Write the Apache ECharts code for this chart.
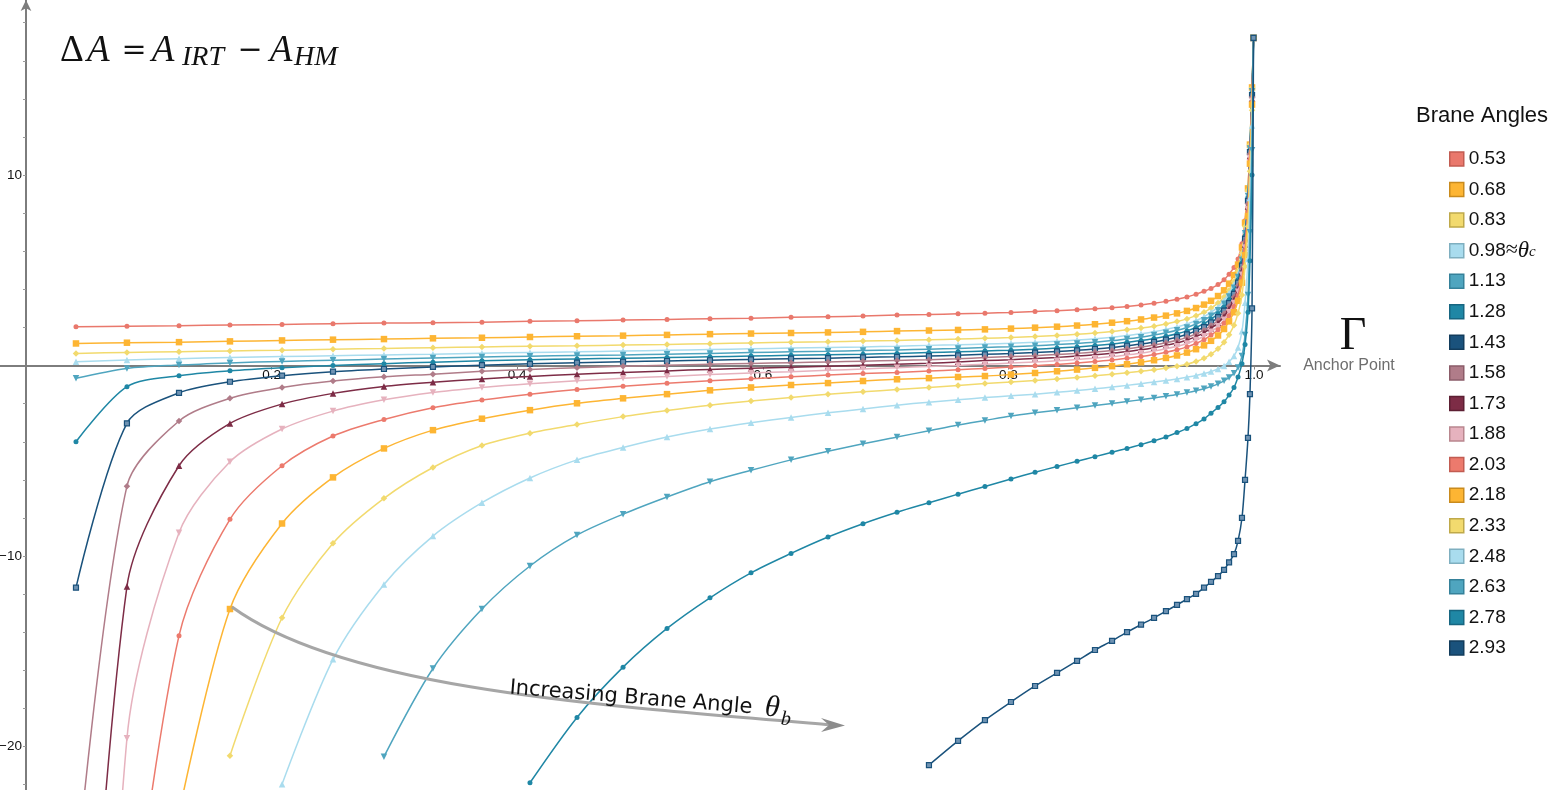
<!DOCTYPE html>
<html><head><meta charset="utf-8">
<script src="https://cdn.jsdelivr.net/npm/echarts@6/dist/echarts.min.js"></script>
<style>html,body{margin:0;padding:0;background:#fff;}#c{width:1556px;height:790px;}</style>
</head><body><div id="c"></div>
<script>
// Anchor point Γ sample positions (shared by all curves)
const GAMMA = [0.0407,0.0822,0.1246,0.1661,0.2085,0.25,0.2915,0.3314,0.3713,0.4104,0.4487,0.4862,0.522,0.557,0.5904,0.623,0.6531,0.6816,0.7093,0.7353,0.759,0.7809,0.8021,0.8217,0.8396,0.8559,0.8705,0.8844,0.8966,0.908,0.9186,0.9283,0.9373,0.9454,0.9528,0.9593,0.965,0.9707,0.9756,0.9797,0.9837,0.987,0.9902,0.9927,0.9951,0.9967,0.9984,0.9996];

const ANGLES = ['0.53','0.68','0.83','0.98','1.13','1.28','1.43','1.58','1.73','1.88','2.03','2.18','2.33','2.48','2.63','2.78','2.93'];

// ΔA values per brane angle (null = not drawn, below plot range)
const DA_053 = [2.04,2.06,2.09,2.13,2.16,2.2,2.23,2.25,2.28,2.32,2.35,2.39,2.42,2.46,2.49,2.53,2.56,2.6,2.65,2.68,2.72,2.75,2.79,2.84,2.88,2.93,2.98,3.03,3.1,3.18,3.27,3.37,3.48,3.6,3.75,3.9,4.05,4.25,4.5,4.8,5.15,5.6,6.4,7.6,9.3,11.5,14.5,17.2];
const DA_068 = [1.16,1.2,1.23,1.27,1.32,1.36,1.39,1.43,1.46,1.5,1.54,1.57,1.61,1.65,1.68,1.71,1.74,1.77,1.81,1.84,1.87,1.9,1.94,1.99,2.04,2.1,2.17,2.25,2.33,2.42,2.52,2.62,2.74,2.87,3.02,3.2,3.4,3.65,3.95,4.3,4.75,5.3,6.2,7.5,9.3,11.6,14.6,17.2];
const DA_083 = [0.64,0.69,0.73,0.77,0.81,0.86,0.9,0.94,0.98,1.01,1.04,1.08,1.11,1.15,1.19,1.22,1.25,1.29,1.32,1.36,1.39,1.43,1.47,1.52,1.58,1.64,1.71,1.79,1.88,1.97,2.07,2.18,2.31,2.45,2.62,2.8,3.02,3.28,3.6,3.95,4.4,4.95,5.9,7.3,9.2,11.6,14.6,17.2];
const DA_098 = [0.2,0.29,0.36,0.42,0.47,0.52,0.56,0.6,0.65,0.69,0.72,0.76,0.8,0.84,0.88,0.92,0.95,0.98,1.02,1.06,1.09,1.13,1.17,1.22,1.28,1.34,1.41,1.49,1.58,1.67,1.78,1.9,2.03,2.18,2.36,2.56,2.8,3.08,3.42,3.8,4.25,4.8,5.7,7.1,9.0,11.5,14.5,17.2];
const DA_113 = [-0.67,-0.15,0.03,0.14,0.22,0.28,0.34,0.4,0.45,0.49,0.53,0.56,0.6,0.64,0.68,0.72,0.75,0.79,0.82,0.86,0.9,0.95,0.99,1.04,1.1,1.16,1.23,1.31,1.4,1.49,1.6,1.72,1.85,2.0,2.18,2.38,2.62,2.9,3.24,3.62,4.08,4.65,5.55,6.95,8.9,11.4,14.4,17.2];
const DA_128 = [-4.0,-1.11,-0.53,-0.27,-0.11,0.0,0.1,0.18,0.25,0.3,0.35,0.38,0.42,0.46,0.5,0.54,0.57,0.6,0.64,0.68,0.72,0.77,0.81,0.86,0.92,0.98,1.05,1.13,1.22,1.31,1.42,1.54,1.67,1.82,2.0,2.2,2.44,2.72,3.06,3.45,3.92,4.5,5.4,6.8,8.8,11.3,14.3,17.2];
const DA_143 = [-11.66,-3.03,-1.43,-0.85,-0.53,-0.32,-0.18,-0.07,0.02,0.09,0.15,0.2,0.24,0.28,0.32,0.36,0.39,0.43,0.46,0.5,0.54,0.59,0.63,0.68,0.74,0.8,0.87,0.95,1.04,1.13,1.24,1.36,1.49,1.64,1.82,2.02,2.26,2.54,2.88,3.28,3.76,4.35,5.25,6.65,8.65,11.2,14.2,17.2];
const DA_158 = [-27,-6.33,-2.91,-1.72,-1.15,-0.81,-0.59,-0.45,-0.3,-0.2,-0.11,-0.04,0.02,0.07,0.11,0.15,0.19,0.23,0.27,0.31,0.36,0.42,0.47,0.52,0.58,0.64,0.71,0.79,0.88,0.97,1.08,1.2,1.33,1.48,1.66,1.86,2.1,2.38,2.72,3.12,3.6,4.2,5.1,6.5,8.5,11.1,14.1,17.2];
const DA_173 = [-45,-11.6,-5.26,-3.04,-2.02,-1.46,-1.1,-0.88,-0.7,-0.57,-0.46,-0.36,-0.28,-0.2,-0.14,-0.09,-0.03,0.02,0.07,0.12,0.19,0.26,0.31,0.37,0.43,0.5,0.57,0.65,0.74,0.83,0.94,1.06,1.19,1.34,1.52,1.72,1.96,2.24,2.58,2.98,3.46,4.05,4.95,6.35,8.35,11.0,14.0,17.2];
const DA_188 = [-70,-19.57,-8.78,-5.05,-3.33,-2.39,-1.8,-1.41,-1.15,-0.95,-0.8,-0.67,-0.57,-0.47,-0.39,-0.32,-0.25,-0.18,-0.11,-0.05,0.01,0.07,0.13,0.19,0.25,0.32,0.39,0.47,0.56,0.65,0.76,0.88,1.01,1.16,1.34,1.54,1.78,2.06,2.4,2.8,3.28,3.87,4.77,6.2,8.2,10.9,13.9,17.2];
const DA_203 = [null,-32,-14.18,-8.07,-5.26,-3.7,-2.83,-2.21,-1.81,-1.5,-1.26,-1.08,-0.93,-0.8,-0.69,-0.59,-0.5,-0.42,-0.36,-0.29,-0.22,-0.15,-0.08,-0.01,0.06,0.13,0.21,0.29,0.38,0.47,0.58,0.7,0.83,0.98,1.16,1.36,1.6,1.88,2.22,2.62,3.1,3.68,4.58,6.05,8.05,10.8,13.8,17.2];
const DA_218 = [null,null,-23.5,-12.78,-8.29,-5.87,-4.35,-3.39,-2.79,-2.34,-1.98,-1.72,-1.5,-1.3,-1.15,-1.02,-0.92,-0.81,-0.72,-0.66,-0.6,-0.55,-0.47,-0.39,-0.3,-0.21,-0.12,-0.03,0.07,0.17,0.28,0.4,0.53,0.68,0.86,1.06,1.3,1.58,1.92,2.32,2.8,3.4,4.35,5.8,7.85,10.6,13.7,17.2];
const DA_233 = [null,null,null,-20.48,-13.24,-9.33,-6.97,-5.35,-4.2,-3.55,-3.09,-2.68,-2.36,-2.08,-1.86,-1.67,-1.51,-1.38,-1.26,-1.15,-1.04,-0.94,-0.86,-0.78,-0.7,-0.62,-0.54,-0.46,-0.38,-0.3,-0.22,-0.13,-0.04,0.07,0.21,0.38,0.6,0.88,1.22,1.62,2.12,2.75,3.7,5.2,7.3,10.2,13.4,17.2];
const DA_248 = [null,null,null,null,-21.98,-15.42,-11.49,-8.95,-7.2,-5.9,-4.95,-4.3,-3.75,-3.33,-3.0,-2.72,-2.48,-2.28,-2.08,-1.92,-1.8,-1.68,-1.59,-1.5,-1.4,-1.31,-1.22,-1.13,-1.04,-0.95,-0.86,-0.78,-0.7,-0.61,-0.52,-0.42,-0.31,-0.18,-0.02,0.2,0.5,0.95,1.8,3.3,5.6,8.8,12.6,17.2];
const DA_263 = [null,null,null,null,null,null,-20.53,-15.9,-12.78,-10.52,-8.9,-7.8,-6.9,-6.1,-5.5,-4.95,-4.5,-4.1,-3.75,-3.42,-3.12,-2.88,-2.65,-2.48,-2.34,-2.22,-2.1,-1.99,-1.89,-1.79,-1.7,-1.61,-1.52,-1.42,-1.32,-1.22,-1.1,-0.96,-0.8,-0.62,-0.4,-0.1,0.5,1.6,3.7,7.0,11.3,17.2];
const DA_278 = [null,null,null,null,null,null,null,null,null,-21.9,-18.47,-15.83,-13.8,-12.19,-10.88,-9.86,-9.0,-8.3,-7.7,-7.2,-6.75,-6.35,-5.95,-5.6,-5.3,-5.02,-4.78,-4.55,-4.35,-4.15,-3.95,-3.75,-3.52,-3.3,-3.05,-2.8,-2.5,-2.2,-1.9,-1.55,-1.15,-0.6,0.1,1.1,2.8,5.5,10.0,17.2];
const DA_293 = [null,null,null,null,null,null,null,null,null,null,null,null,null,null,null,null,null,null,null,-20.97,-19.7,-18.61,-17.66,-16.82,-16.13,-15.5,-14.93,-14.45,-13.99,-13.6,-13.24,-12.89,-12.56,-12.26,-11.98,-11.66,-11.36,-11.05,-10.72,-10.33,-9.9,-9.2,-8.0,-6.0,-3.8,-1.5,3.0,17.2];

const VALUES = [DA_053,DA_068,DA_083,DA_098,DA_113,DA_128,DA_143,DA_158,DA_173,DA_188,DA_203,DA_218,DA_233,DA_248,DA_263,DA_278,DA_293];

const COLORS  = ['#E9786C','#FDB533','#F2DA6E','#A9DCEE','#4FA5BF','#1F87A5','#1A527C','#B07C89','#7D2C46','#E6B2BE','#EC7A6D','#FDB533','#F2DA6E','#A9DCEE','#4FA5BF','#1F87A5','#1A527C'];
const BORDERS = ['#C25C52','#C98B1E','#BFA94A','#7FAFC0','#35819A','#176681','#123C5C','#8B5C69','#5C1F33','#B9878F','#C25C52','#C98B1E','#BFA94A','#7FAFC0','#35819A','#176681','#123C5C'];
const SHAPES  = ['circle','rect','diamond','triangle','tridown'];

const X_TICKS = [0.2,0.4,0.6,0.8,1.0];
const Y_LABELS = [-20,-10,10];
const Y_TICKS = [-22,-20,-18,-16,-14,-12,-10,-8,-6,-4,-2,2,4,6,8,10,12,14,16,18];

const X_MIN = -0.02117, X_MAX = 1.02117, Y_MIN = -22.28, Y_MAX = 19.19;
const W = 1556, H = 790, GRID_RIGHT = 276;
const PLOT_W = W - GRID_RIGHT;
// axes cross at the origin: shift them from the grid edges onto zero
const X_AXIS_OFFSET = -((0 - Y_MIN) / (Y_MAX - Y_MIN)) * H;
const Y_AXIS_OFFSET = -((0 - X_MIN) / (X_MAX - X_MIN)) * PLOT_W;

const chart = echarts.init(document.getElementById('c'), null, {renderer:'canvas'});

const series = ANGLES.map((name, i) => {
  const shape = SHAPES[i % 5];
  const isSq = shape === 'rect';
  const darkSq = isSq && (name === '1.43' || name === '2.93');
  return {
    type: 'line', name,
    data: GAMMA.map((g, j) => [g, VALUES[i][j]]).filter(p => p[1] !== null),
    smooth: 0.3,
    symbol: shape === 'tridown' ? 'triangle' : shape,
    symbolRotate: shape === 'tridown' ? 180 : 0,
    symbolSize: shape === 'circle' ? 5 : (darkSq ? 5 : (isSq ? 6.5 : 6.5)),
    showSymbol: true, showAllSymbol: true,
    lineStyle: {color: COLORS[i], width: 1.5},
    itemStyle: {color: darkSq ? '#6F93B3' : COLORS[i], borderColor: COLORS[i], borderWidth: darkSq ? 1.2 : 0},
    emphasis: {disabled: true},
    silent: true, animation: false, z: 2 + i * 0.01
  };
});

const serif = '"Liberation Serif", "DejaVu Serif", serif';
const sans = '"Liberation Sans", Arial, sans-serif';

chart.setOption({
  animation: false,
  backgroundColor: '#fff',
  grid: {left: 0, right: GRID_RIGHT, top: 0, bottom: 0, containLabel: false, outerBoundsMode: 'none'},
  xAxis: {
    type: 'value', min: X_MIN, max: X_MAX, position: 'bottom', offset: X_AXIS_OFFSET,
    axisLine: {onZero: false, symbol: ['none','arrow'], symbolSize: [9, 13], lineStyle: {color: '#7d7d7d', width: 2}},
    axisTick: {show: true, customValues: X_TICKS, length: 4, lineStyle: {color: '#8a8a8a'}},
    axisLabel: {customValues: X_TICKS, formatter: v => Number(v).toFixed(1), fontSize: 13.5, color: '#111', margin: 3, fontFamily: sans},
    splitLine: {show: false}
  },
  yAxis: {
    type: 'value', min: Y_MIN, max: Y_MAX, position: 'left', offset: Y_AXIS_OFFSET,
    axisLine: {onZero: false, symbol: ['none','arrow'], symbolSize: [8, 11], lineStyle: {color: '#7d7d7d', width: 2}},
    axisTick: {show: true, customValues: Y_TICKS, length: 3, lineStyle: {color: '#9a9a9a'}},
    axisLabel: {customValues: Y_LABELS, formatter: v => String(v).replace('-', '\u2212'), fontSize: 13.5, color: '#111', margin: 4, fontFamily: sans},
    splitLine: {show: false}
  },
  legend: {
    orient: 'vertical', left: 1449, top: 146, padding: 0,
    itemWidth: 14, itemHeight: 14, itemGap: 4.56, itemTextGap: 7,
    selectedMode: false,
    textStyle: {fontSize: 19, lineHeight: 26, color: '#111', fontFamily: sans,
      rich: {
        ap: {fontSize: 22, lineHeight: 26, fontFamily: serif, color: '#111'},
        th: {fontSize: 23, lineHeight: 26, fontFamily: serif, fontStyle: 'italic', color: '#111'},
        sub: {fontSize: 15, lineHeight: 10, padding: [0,0,4,0], verticalAlign: 'bottom', fontFamily: serif, fontStyle: 'italic', color: '#111'}
      }},
    formatter: n => n === '0.98' ? '0.98{ap|\u2248}{th|\u03b8}{sub|c}' : n,
    data: ANGLES.map((n, i) => ({name: n, icon: 'rect', itemStyle: {color: COLORS[i], borderColor: BORDERS[i], borderWidth: 1.5}}))
  },
  graphic: [
    {type: 'text', x: 60, y: 51.5, z: 100, silent: true, style: {
      text: '{d|\u0394}{i|A}{eq|=}{i2|A}{s1|IRT}{eq|\u2212}{i3|A}{s2|HM}',
      verticalAlign: 'middle', textAlign: 'left',
      rich: {
        d: {fontFamily: serif, fontSize: 37, lineHeight: 40, width: 27, fill: '#111'},
        i: {fontFamily: serif, fontSize: 37, fontStyle: 'italic', lineHeight: 40, width: 29, fill: '#111'},
        eq: {fontFamily: '"DejaVu Serif", serif', fontSize: 30, lineHeight: 40, width: 36, align: 'center', fill: '#111'},
        i2: {fontFamily: serif, fontSize: 37, fontStyle: 'italic', lineHeight: 40, width: 22, fill: '#111'},
        i3: {fontFamily: serif, fontSize: 37, fontStyle: 'italic', lineHeight: 40, width: 26, fill: '#111'},
        s1: {fontFamily: serif, fontSize: 28, fontStyle: 'italic', lineHeight: 24, verticalAlign: 'bottom', width: 58, fill: '#111'},
        s2: {fontFamily: serif, fontSize: 28, fontStyle: 'italic', lineHeight: 24, verticalAlign: 'bottom', fill: '#111'}
      }}},
    {type: 'text', x: 1353, y: 337, z: 100, silent: true, style: {text: '\u0393', font: '46px ' + serif, fill: '#111', textAlign: 'center', verticalAlign: 'middle'}},
    {type: 'text', x: 1349, y: 366, z: 100, silent: true, style: {text: 'Anchor Point', font: '16px ' + sans, fill: '#6e6e6e', textAlign: 'center', verticalAlign: 'middle'}},
    {type: 'text', x: 1416, y: 116, z: 100, silent: true, style: {text: 'Brane Angles', font: '22px ' + sans, fill: '#111', textAlign: 'left', verticalAlign: 'middle'}},
    {type: 'bezierCurve', z: 90, silent: true, shape: {x1: 232, y1: 607, cpx1: 342, cpy1: 687, cpx2: 582, cpy2: 704.5, x2: 830, y2: 724.8}, style: {stroke: '#a6a6a6', lineWidth: 3, fill: null}},
    {type: 'polygon', z: 91, silent: true, shape: {points: [[845,725.5],[821,718],[829,725],[821,732]]}, style: {fill: '#8c8c8c'}},
    {type: 'group', x: 509, y: 695, rotation: -0.081, z: 100, silent: true, children: [
      {type: 'text', x: 0, y: -7, z: 100, style: {text: 'Increasing Brane Angle', font: '21px "DejaVu Sans", sans-serif', fill: '#111', textAlign: 'left', verticalAlign: 'middle'}},
      {type: 'text', x: 256, y: -8, z: 100, style: {text: '\u03b8', font: 'italic 30px ' + serif, fill: '#111', textAlign: 'left', verticalAlign: 'middle'}},
      {type: 'text', x: 273, y: 2, z: 100, style: {text: 'b', font: 'italic 20px ' + serif, fill: '#111', textAlign: 'left', verticalAlign: 'middle'}}
    ]}
  ],
  series
});
</script></body></html>
